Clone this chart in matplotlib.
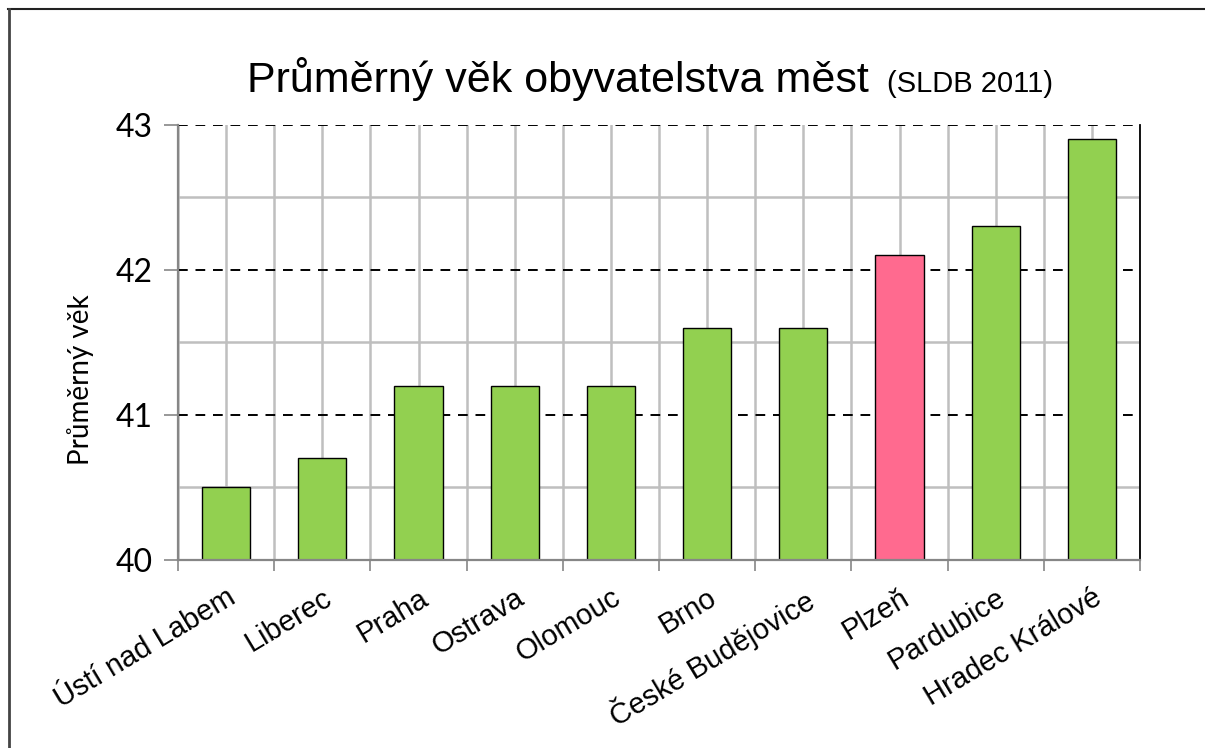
import matplotlib
matplotlib.use("Agg")
import matplotlib.pyplot as plt
from matplotlib.lines import Line2D
import numpy as np

# Data
cities = ["Ústí nad Labem", "Liberec", "Praha", "Ostrava", "Olomouc", "Brno",
          "České Budějovice", "Plzeň", "Pardubice", "Hradec Králové"]
ages = [40.5, 40.7, 41.2, 41.2, 41.2, 41.6, 41.6, 42.1, 42.3, 42.9]
highlight = "Plzeň"

green = "#92D050"
pink = "#FF6A8F"
grid_gray = "#BFBFBF"
axis_gray = "#868686"

fig = plt.figure(figsize=(12.05, 7.48), dpi=100)
ax = fig.add_axes([178 / 1205, 1 - 560 / 748, (1140 - 178) / 1205, (560 - 125) / 748])

x = np.arange(len(cities))
colors = [pink if c == highlight else green for c in cities]

# grid
ax.set_axisbelow(True)
for xv in np.arange(-0.5, len(cities), 0.5):
    ax.axvline(xv, color=grid_gray, lw=1.8, zorder=0)
for yv in [40.5, 41.5, 42.5]:
    ax.axhline(yv, color=grid_gray, lw=1.8, zorder=0)
for yv in [41, 42, 43]:
    ax.axhline(yv, color="black", lw=1.4, ls=(0, (5, 4)), zorder=0.5)

ax.bar(x, [a - 40 for a in ages], bottom=40, width=0.5, color=colors,
       edgecolor="black", linewidth=1.0, zorder=2)

ax.set_xlim(-0.5, len(cities) - 0.5)
ax.set_ylim(40, 43)

ax.set_yticks([40, 41, 42, 43])
ax.set_yticklabels(["40", "41", "42", "43"], fontfamily="Lato", fontsize=23)
ax.tick_params(axis="y", length=10, width=1.2, color=axis_gray, pad=8)

ax.set_xticks(np.arange(-0.5, len(cities), 1))
ax.set_xticklabels([])
ax.tick_params(axis="x", length=8, width=1.2, color=axis_gray)
ax.set_xticks(x, minor=True)
ax.set_xticklabels(cities, minor=True, rotation=31, ha="right",
                   rotation_mode="anchor", fontfamily="Liberation Sans", fontsize=21)
ax.tick_params(axis="x", which="minor", length=0, pad=17)

for s in ["left", "bottom"]:
    ax.spines[s].set_color(axis_gray)
    ax.spines[s].set_linewidth(1.6)
ax.spines["right"].set_color("black")
ax.spines["right"].set_linewidth(1.3)
ax.spines["top"].set_visible(False)

ax.set_ylabel("Průměrný věk", fontfamily="Lato", fontsize=20)
ax.yaxis.set_label_coords(-0.087, 0.414)

fig.text(247 / 1205, 1 - 92 / 748, "Průměrný věk obyvatelstva měst",
         fontfamily="Liberation Sans", fontsize=31, ha="left", va="baseline")
fig.text(887 / 1205, 1 - 92 / 748, "(SLDB 2011)",
         fontfamily="Liberation Sans", fontsize=21, ha="left", va="baseline")

# outer frame (top and left edges)
fig.add_artist(Line2D([8 / 1205, 1], [1 - 9 / 748, 1 - 9 / 748], color="#222222", lw=1.5))
fig.add_artist(Line2D([9 / 1205, 9 / 1205], [0, 1 - 9 / 748], color="#444444", lw=2))

fig.savefig("out.png", dpi=100)
